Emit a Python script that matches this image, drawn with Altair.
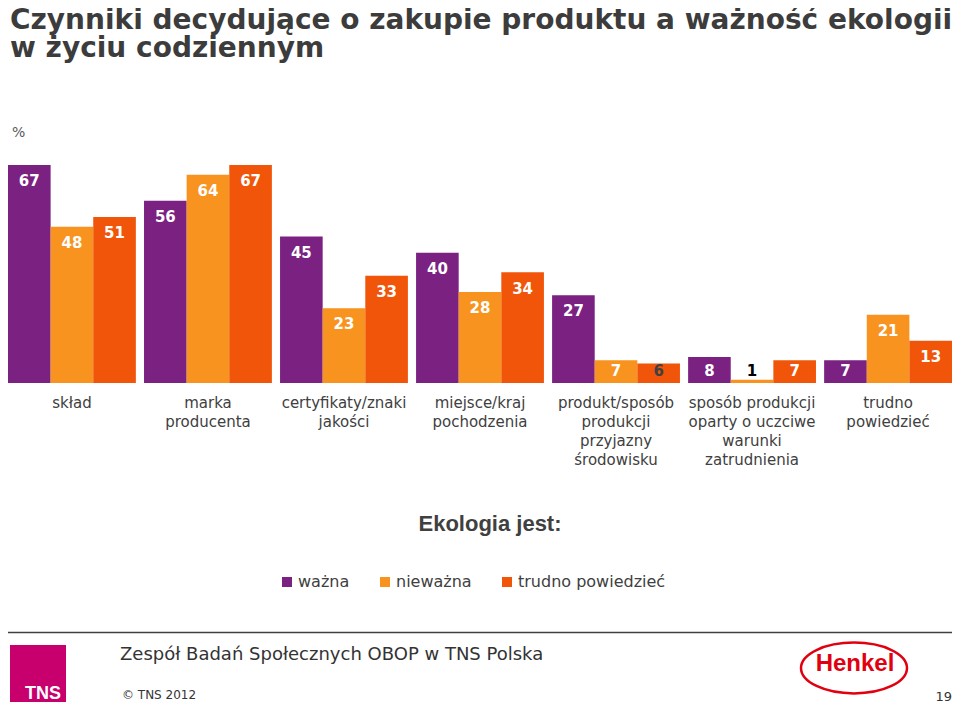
import altair as alt
import pandas as pd

# ---- data -------------------------------------------------------------
categories = [
    "skład",
    "marka\nproducenta",
    "certyfikaty/znaki\njakości",
    "miejsce/kraj\npochodzenia",
    "produkt/sposób\nprodukcji\nprzyjazny\nśrodowisku",
    "sposób produkcji\noparty o uczciwe\nwarunki\nzatrudnienia",
    "trudno\npowiedzieć",
]
series = ["ważna", "nieważna", "trudno powiedzieć"]
wazna = [67, 56, 45, 40, 27, 8, 7]
niewazna = [48, 64, 23, 28, 7, 1, 21]
trudno = [51, 67, 33, 34, 6, 7, 13]
colors = ["#7A2181", "#F7931E", "#F0550A"]

title_text = "Czynniki decydujące o zakupie produktu a ważność ekologii\nw życiu codziennym"
legend_title = "Ekologia jest:"
unit_text = "%"
footer_text = "Zespół Badań Społecznych OBOP w TNS Polska"
copyright_text = "© TNS 2012"
page_no = "19"

rows = []
for s, vals in zip(series, [wazna, niewazna, trudno]):
    for c, v in zip(categories, vals):
        rows.append({"kat": c, "seria": s, "value": v})
df = pd.DataFrame(rows)

W, H = 944, 218
TXT = "#404040"

base = alt.Chart(df).encode(
    x=alt.X("kat:N", sort=categories, title=None,
            scale=alt.Scale(paddingInner=0.06, paddingOuter=0),
            axis=alt.Axis(labelAngle=0, domain=False, ticks=False,
                          labelFont="DejaVu Sans", labelFontSize=15,
                          labelColor=TXT, labelPadding=12,
                          labelBaseline="top", labelLineHeight=19,
                          labelExpr="split(datum.label, '\\n')")),
    xOffset=alt.XOffset("seria:N", sort=series,
                        scale=alt.Scale(paddingInner=0, paddingOuter=0)),
)

bars = base.mark_bar().encode(
    y=alt.Y("value:Q", axis=None, scale=alt.Scale(domain=[0, 67], nice=False)),
    color=alt.Color("seria:N", sort=series,
                    scale=alt.Scale(domain=series, range=colors),
                    legend=alt.Legend(orient="none", legendX=271, legendY=409,
                                      direction="horizontal", title=None,
                                      symbolType="square", symbolSize=100,
                                      symbolStrokeWidth=0,
                                      labelFont="DejaVu Sans", labelFontSize=16,
                                      labelColor=TXT, columnPadding=27,
                                      labelOffset=3, padding=0)),
)

labels = base.transform_calculate(
    ly="max(datum.value - 5, 3.8)"
).mark_text(font="DejaVu Sans", fontWeight="bold", fontSize=15,
            baseline="middle").encode(
    y=alt.Y("ly:Q"),
    text=alt.Text("value:Q"),
    color=alt.when(alt.datum.value <= 1).then(alt.value("#000000"))
    .when(alt.datum.value == 6).then(alt.value("#404040"))
    .otherwise(alt.value("white")),
)


def txt(t, x, y, **kw):
    return alt.Chart(pd.DataFrame({"t": [t]})).mark_text(**kw).encode(
        text="t:N", x=alt.value(x), y=alt.value(y))


one = pd.DataFrame({"a": [0]})

title = txt(title_text, 2, -136, align="left", baseline="alphabetic",
            font="DejaVu Sans", fontWeight="bold", fontSize=28,
            lineBreak="\n", lineHeight=28, color="#3c3c3c")
unit = txt(unit_text, 4, -32, align="left", baseline="middle",
           font="DejaVu Sans", fontSize=14, color="#595959")
leg_title = txt(legend_title, 482, 359, align="center", baseline="middle",
                font="Liberation Sans", fontWeight="bold", fontSize=22,
                color=TXT)
rule = alt.Chart(one).mark_rule(color="#404040", strokeWidth=1.5).encode(
    x=alt.value(0), x2=alt.value(944), y=alt.value(467.5))
tns_box = alt.Chart(one).mark_rect(color="#C8006E").encode(
    x=alt.value(2), x2=alt.value(58), y=alt.value(480), y2=alt.value(537))
tns_txt = txt("TNS", 35, 534, align="center", baseline="alphabetic",
              font="Liberation Sans", fontWeight="bold", fontSize=18,
              color="white")
footer = txt(footer_text, 112, 490, align="left", baseline="middle",
             font="DejaVu Sans", fontSize=18, color="#333333")
copy_t = txt(copyright_text, 114, 530, align="left", baseline="middle",
             font="DejaVu Sans", fontSize=12, color="#333333")
page_t = txt(page_no, 944, 532, align="right", baseline="middle",
             font="DejaVu Sans", fontSize=13, color="#333333")
ellipse = alt.Chart(one).mark_point(
    shape="M -1 0 A 1 0.48 0 1 1 1 0 A 1 0.48 0 1 1 -1 0 Z",
    size=11236, filled=False, color="#E1000F", strokeWidth=2.5, opacity=1
).encode(x=alt.value(846), y=alt.value(503))
henkel = txt("Henkel", 847, 506, align="center", baseline="alphabetic",
             font="Liberation Sans", fontWeight="bold", fontSize=24,
             color="#E1000F")

chart = alt.layer(
    bars, labels, title, unit, leg_title, rule, tns_box, tns_txt,
    footer, copy_t, page_t, ellipse, henkel
).properties(
    width=W, height=H,
    padding={"left": 0, "top": 157, "right": 0, "bottom": 321},
    autosize=alt.AutoSizeParams(type="none"),
).configure_view(stroke=None)

chart.save("out.html", embed_options={"renderer": "svg", "actions": False})
